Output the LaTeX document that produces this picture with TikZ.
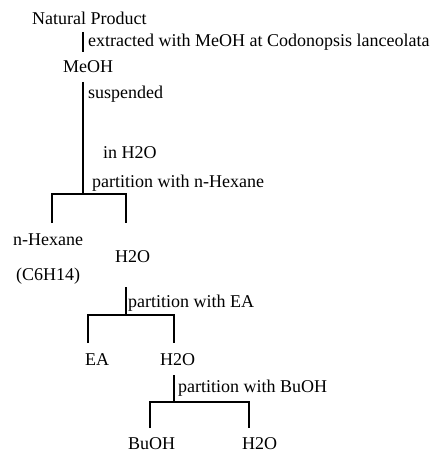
\documentclass[tikz,border=0pt]{standalone}
\usepackage{fontspec}
\setmainfont{Liberation Serif}
\begin{document}
\begin{tikzpicture}[x=1pt,y=-1pt,
  lbl/.style={anchor=west,inner sep=0pt,font=\fontsize{18}{20}\selectfont},
  ln/.style={line width=1.1pt}]
\useasboundingbox (0,0) rectangle (430,454);
% texts
\node[lbl] (np) at (32,18) {Natural Product};
\node[lbl] (ext) at (88,42) {extracted with MeOH at Codonopsis lanceolata};
\node[lbl] (meoh) at (63,67) {MeOH};
\node[lbl] (susp) at (88,94) {suspended};
\node[lbl] (inh) at (103,153) {in H2O};
\node[lbl] (phex) at (92,183) {partition with n-Hexane};
\node[lbl] (hex) at (13,240) {n-Hexane};
\node[lbl] (c6) at (16,276) {(C6H14)};
\node[lbl] (wa) at (115,257) {H2O};
\node[lbl] (pea) at (128,303) {partition with EA};
\node[lbl] (ea) at (85,360) {EA};
\node[lbl] (wb) at (160,360) {H2O};
\node[lbl] (pbu) at (178,388) {partition with BuOH};
\node[lbl] (bu) at (128,444) {BuOH};
\node[lbl] (wc) at (242,444) {H2O};
% connector points
\coordinate (a1) at (83,32); \coordinate (a2) at (83,52);
\coordinate (b1) at (83,82); \coordinate (b2) at (83,194);
\coordinate (bl) at (52,194); \coordinate (br) at (126,194);
\coordinate (bld) at (52,223); \coordinate (brd) at (126,223);
\coordinate (c1) at (126,287); \coordinate (c2) at (126,315);
\coordinate (cl) at (88,315); \coordinate (cr) at (174,315);
\coordinate (cld) at (88,343); \coordinate (crd) at (174,343);
\coordinate (d1) at (174,375); \coordinate (d2) at (174,402);
\coordinate (dl) at (150,402); \coordinate (dr) at (249,402);
\coordinate (dld) at (150,428); \coordinate (drd) at (249,428);
% lines
\draw[ln] (a1) -- (a2);
\draw[ln] (b1) -- (b2);
\draw[ln] (bld) -- (bl) -- (br) -- (brd);
\draw[ln] (c1) -- (c2);
\draw[ln] (cld) -- (cl) -- (cr) -- (crd);
\draw[ln] (d1) -- (d2);
\draw[ln] (dld) -- (dl) -- (dr) -- (drd);
\end{tikzpicture}
\end{document}
